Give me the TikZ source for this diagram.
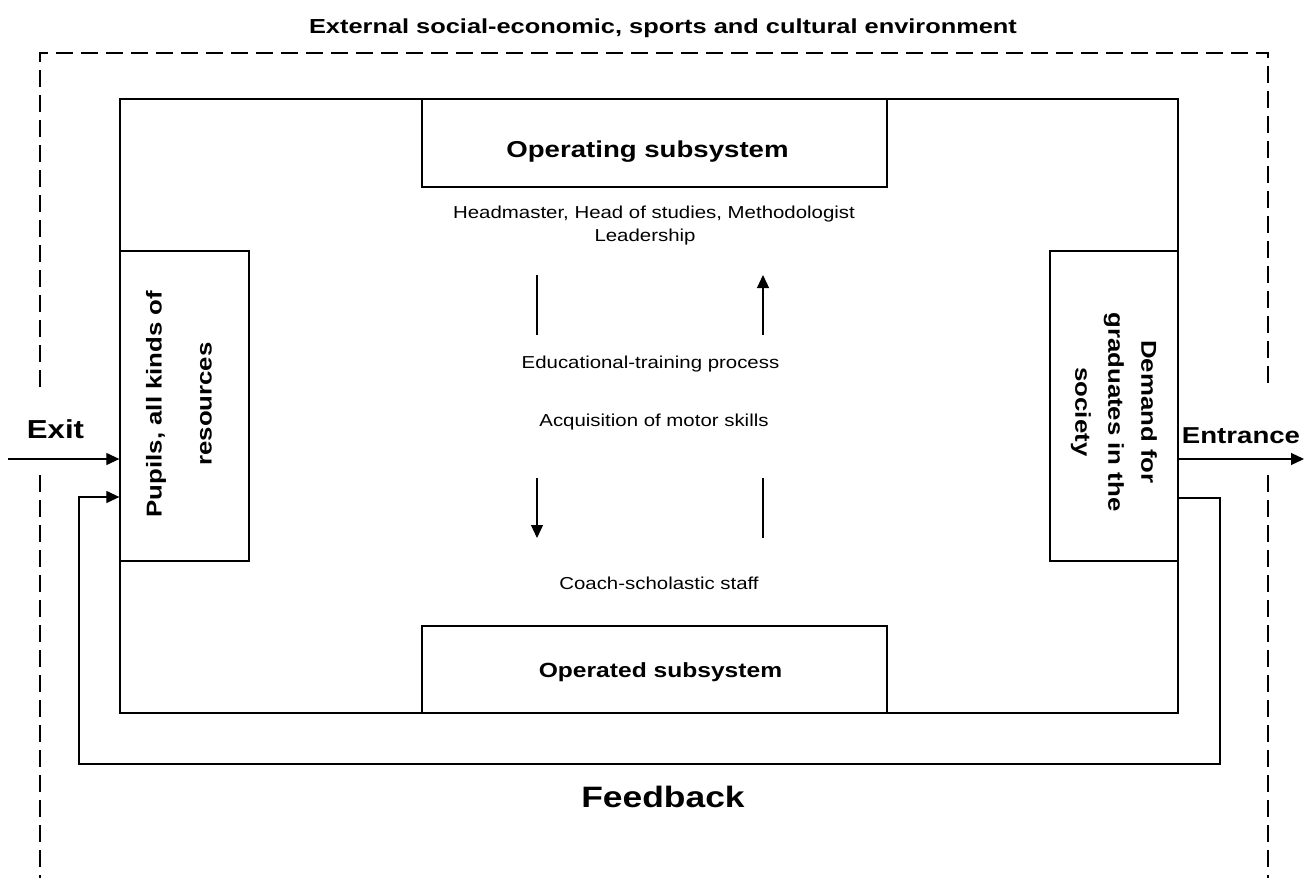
\documentclass[tikz,border=0pt]{standalone}
\usepackage{fontspec}
\setmainfont{Liberation Sans}
\newfontfamily\fTitle[FakeStretch=1.25]{Liberation Sans}
\newfontfamily\fBold[FakeStretch=1.2]{Liberation Sans}
\newfontfamily\fReg[FakeStretch=1.18]{Liberation Sans}
\usetikzlibrary{arrows.meta}
\tikzset{
  boxnode/.style={draw, line width=1.3pt, inner sep=0pt},
  arr/.style={line width=1.2pt, -{Triangle[length=13pt,width=12pt]}},
  plainline/.style={line width=1.2pt},
  envline/.style={line width=1.2pt, dash pattern=on 17pt off 8pt},
  regtext/.style={anchor=base, inner sep=0pt, font=\fReg\fontsize{17.3}{20}\selectfont},
  boldtext/.style={anchor=base, inner sep=0pt, font=\fBold\bfseries}
}
\begin{document}
\begin{tikzpicture}[x=1pt, y=-1pt]
\useasboundingbox (0,0) rectangle (1304,878);
% title
\node[anchor=base, inner sep=0pt, font=\fTitle\bfseries\fontsize{20.3}{24}\selectfont] (title) at (663,33) {External social-economic, sports and cultural environment};
% environment (dashed)
\coordinate (e1) at (40,387);
\coordinate (e2) at (40,53);
\coordinate (e3) at (1268,53);
\coordinate (e4) at (1268,385);
\coordinate (e5) at (40,475);
\coordinate (e6) at (40,878);
\coordinate (e7) at (1268,475);
\coordinate (e8) at (1268,878);
\draw[envline] (e1) -- (e2) -- (e3) -- (e4);
\draw[envline] (e5) -- (e6);
\draw[envline] (e7) -- (e8);
% boxes
\node[boxnode, minimum width=1058pt, minimum height=614pt] (main) at (649,406) {};
\node[boxnode, fill=white, minimum width=465pt, minimum height=88pt] (op) at (654.5,143) {};
\node[boxnode, fill=white, minimum width=465pt, minimum height=87pt] (opd) at (654.5,669.5) {};
\node[boxnode, fill=white, minimum width=129pt, minimum height=310pt] (pupils) at (184.5,406) {};
\node[boxnode, fill=white, minimum width=128pt, minimum height=310pt] (demand) at (1114,406) {};
% box labels
\node[boldtext, font=\fBold\bfseries\fontsize{23}{27}\selectfont] (optext) at (647.5,157.5) {Operating subsystem};
\node[boldtext, font=\fBold\bfseries\fontsize{20.5}{24}\selectfont] (opdtext) at (660.5,677) {Operated subsystem};
\node[rotate=90, align=center, inner sep=0pt, font=\fBold\bfseries\fontsize{21.5}{50}\selectfont] (pupilstext) at (179,404) {Pupils, all kinds of\\resources};
\node[rotate=-90, align=center, inner sep=0pt, font=\fBold\bfseries\fontsize{21.5}{33}\selectfont] (demandtext) at (1114,412) {Demand for\\graduates in the\\society};
% middle texts
\node[regtext] (head) at (654,218) {Headmaster, Head of studies, Methodologist};
\node[regtext] (lead) at (645,241) {Leadership};
\node[regtext] (edu) at (650.5,368) {Educational-training process};
\node[regtext] (acq) at (654,426) {Acquisition of motor skills};
\node[regtext] (coach) at (659,589) {Coach-scholastic staff};
% middle arrows
\coordinate (la) at (537,275);
\coordinate (lb) at (537,335);
\coordinate (ra) at (763,335);
\coordinate (rb) at (763,275);
\coordinate (lc) at (537,478);
\coordinate (ld) at (537,538);
\coordinate (rc) at (763,478);
\coordinate (rd) at (763,538);
\draw[plainline] (la) -- (lb);
\draw[arr] (ra) -- (rb);
\draw[arr] (lc) -- (ld);
\draw[plainline] (rc) -- (rd);
% exit / entrance
\coordinate (exitstart) at (8,459);
\coordinate (entend) at (1304,459);
\draw[arr] (exitstart) -- ([yshift=-53pt]pupils.west);
\draw[arr] ([yshift=-53pt]demand.east) -- (entend);
\node[boldtext, font=\fBold\bfseries\fontsize{26}{30}\selectfont] (exittext) at (55.5,438) {Exit};
\node[boldtext, font=\fBold\bfseries\fontsize{23}{27}\selectfont] (enttext) at (1241,443) {Entrance};
% feedback loop
\coordinate (fb1) at (1220,764);
\coordinate (fb2) at (79,764);
\draw[arr] ([yshift=-92pt]demand.east) -| (fb1) -- (fb2) |- ([yshift=-91pt]pupils.west);
\node[boldtext, font=\fBold\bfseries\fontsize{29.5}{34}\selectfont] (fbtext) at (663,807) {Feedback};
\end{tikzpicture}
\end{document}
